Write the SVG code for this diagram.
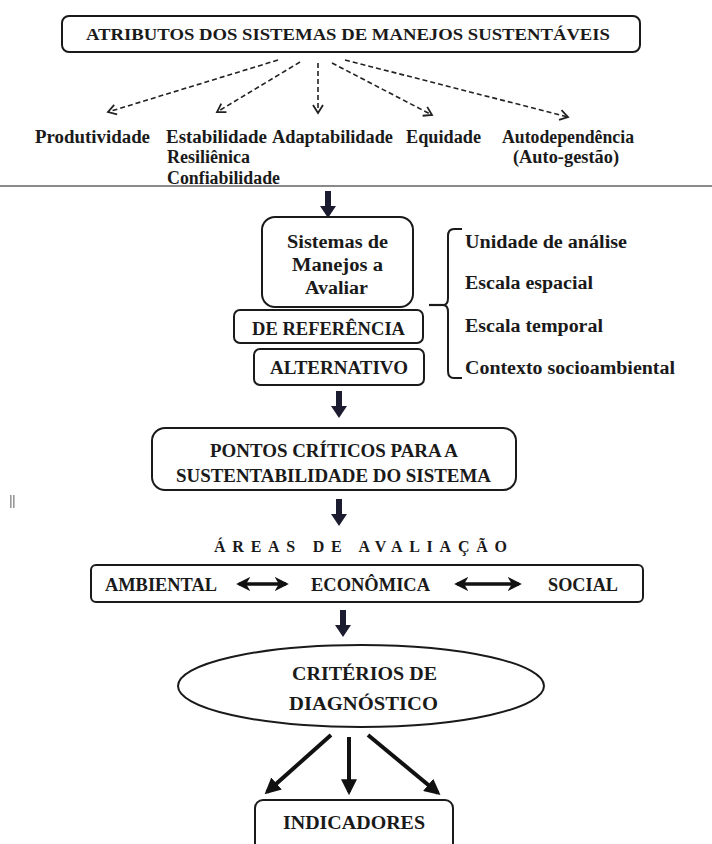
<svg xmlns="http://www.w3.org/2000/svg" width="712" height="844" viewBox="0 0 712 844">
<defs>
<style>
text{font-family:"Liberation Serif","Times New Roman",serif;font-weight:bold;fill:#1a1a1a;font-size:18px}
.c{text-anchor:middle}
.box{fill:#fff;stroke:#1a1a1a;stroke-width:2}
.dash{fill:none;stroke:#222;stroke-width:1.6;stroke-dasharray:5,3}
.thick{fill:none;stroke:#111;stroke-width:4}
.dbl{fill:none;stroke:#111;stroke-width:3.4}
</style>
<marker id="open" viewBox="0 0 12 12" refX="10" refY="6" markerWidth="12" markerHeight="12" markerUnits="userSpaceOnUse" orient="auto">
<path d="M2,1 L10,6 L2,11" fill="none" stroke="#222" stroke-width="1.8"/>
</marker>
<marker id="solid" viewBox="0 0 10 10" refX="8" refY="5" markerWidth="4" markerHeight="4" orient="auto">
<path d="M0,0 L10,5 L0,10 Z" fill="#111"/>
</marker>
<marker id="dh" viewBox="0 0 10 10" refX="8" refY="5" markerWidth="4.2" markerHeight="4.2" orient="auto">
<path d="M0,0 L10,5 L0,10 L3,5 Z" fill="#111"/>
</marker>
<marker id="dhS" viewBox="0 0 10 10" refX="2" refY="5" markerWidth="4.2" markerHeight="4.2" orient="auto">
<path d="M10,0 L0,5 L10,10 L7,5 Z" fill="#111"/>
</marker>
<path id="down" d="M-3,0 H3 V15 H8 L0,27 L-8,15 H-3 Z" fill="#1c1c30"/>
</defs>

<g id="atributos">
<rect class="box" x="62" y="16" width="578" height="36" rx="7" stroke-width="2.8"/>
<text x="86" y="40" textLength="524" lengthAdjust="spacingAndGlyphs" style="font-size:17.5px">ATRIBUTOS DOS SISTEMAS DE MANEJOS SUSTENTÁVEIS</text>
</g>
<g id="produtividade"><text x="35" y="143" textLength="115" lengthAdjust="spacingAndGlyphs">Produtividade</text></g>
<g id="estabilidade">
<text x="166" y="143" textLength="101" lengthAdjust="spacingAndGlyphs">Estabilidade</text>
<text x="167" y="163" textLength="83" lengthAdjust="spacingAndGlyphs">Resiliênica</text>
<text x="167" y="184" textLength="113" lengthAdjust="spacingAndGlyphs">Confiabilidade</text>
</g>
<g id="adaptabilidade"><text x="272" y="143" textLength="121" lengthAdjust="spacingAndGlyphs">Adaptabilidade</text></g>
<g id="equidade"><text x="406" y="143" textLength="75" lengthAdjust="spacingAndGlyphs">Equidade</text></g>
<g id="autodependencia">
<text x="502" y="143" textLength="132" lengthAdjust="spacingAndGlyphs">Autodependência</text>
<text x="513" y="163" textLength="106" lengthAdjust="spacingAndGlyphs">(Auto-gestão)</text>
</g>

<g id="sistemas">
<rect class="box" x="262" y="217" width="151" height="90" rx="13"/>
<text x="287" y="248" textLength="101" lengthAdjust="spacingAndGlyphs" style="font-size:18.5px">Sistemas de</text>
<text x="292" y="271" textLength="91" lengthAdjust="spacingAndGlyphs" style="font-size:18.5px">Manejos a</text>
<text x="305" y="294" textLength="63" lengthAdjust="spacingAndGlyphs" style="font-size:18.5px">Avaliar</text>
</g>
<g id="referencia">
<rect class="box" x="234" y="310" width="189" height="33" rx="6"/>
<text x="252" y="335" textLength="153" lengthAdjust="spacingAndGlyphs">DE REFERÊNCIA</text>
</g>
<g id="alternativo">
<rect class="box" x="254" y="349" width="170" height="36" rx="6"/>
<text x="270" y="374" textLength="138" lengthAdjust="spacingAndGlyphs">ALTERNATIVO</text>
</g>
<g id="unidade"><text x="465" y="248" textLength="162" lengthAdjust="spacingAndGlyphs">Unidade de análise</text></g>
<g id="espacial"><text x="465" y="289" textLength="128" lengthAdjust="spacingAndGlyphs">Escala espacial</text></g>
<g id="temporal"><text x="465" y="332" textLength="138" lengthAdjust="spacingAndGlyphs">Escala temporal</text></g>
<g id="contexto"><text x="465" y="374" textLength="210" lengthAdjust="spacingAndGlyphs">Contexto socioambiental</text></g>

<g id="pontos">
<rect class="box" x="152" y="428" width="364" height="62" rx="13"/>
<text x="210" y="457" textLength="248" lengthAdjust="spacingAndGlyphs">PONTOS CRÍTICOS PARA A</text>
<text x="176" y="482" textLength="315" lengthAdjust="spacingAndGlyphs">SUSTENTABILIDADE DO SISTEMA</text>
</g>
<g id="mark"><rect x="10" y="495" width="1.6" height="13" fill="#999"/><rect x="13" y="495" width="1.6" height="13" fill="#999"/></g>

<g id="areas-title"><text x="214" y="552" textLength="293" lengthAdjust="spacing" style="font-size:16px">ÁREAS DE AVALIAÇÃO</text></g>
<g id="areas">
<rect class="box" x="91" y="565" width="552" height="37" rx="5"/>
<text x="105" y="591" textLength="112" lengthAdjust="spacingAndGlyphs">AMBIENTAL</text>
<text x="311" y="591" textLength="119" lengthAdjust="spacingAndGlyphs">ECONÔMICA</text>
<text x="548" y="591" textLength="70" lengthAdjust="spacingAndGlyphs">SOCIAL</text>
</g>

<g id="criterios">
<ellipse cx="361" cy="686" rx="183" ry="41" fill="#fff" stroke="#1a1a1a" stroke-width="2"/>
<text x="292" y="680" textLength="145" lengthAdjust="spacingAndGlyphs" style="font-size:19px">CRITÉRIOS DE</text>
<text x="289" y="710" textLength="149" lengthAdjust="spacingAndGlyphs" style="font-size:19px">DIAGNÓSTICO</text>
</g>

<g id="indicadores">
<rect class="box" x="255" y="800" width="198" height="56" rx="8"/>
<text x="283" y="829" textLength="142" lengthAdjust="spacingAndGlyphs" style="font-size:19px">INDICADORES</text>
</g>

<g id="connectors">
<line class="dash" x1="278" y1="60" x2="108" y2="112" marker-end="url(#open)"/>
<line class="dash" x1="300" y1="62" x2="217" y2="112" marker-end="url(#open)"/>
<line class="dash" x1="318" y1="63" x2="318" y2="113" marker-end="url(#open)"/>
<line class="dash" x1="332" y1="63" x2="432" y2="115" marker-end="url(#open)"/>
<line class="dash" x1="345" y1="60" x2="568" y2="117" marker-end="url(#open)"/>
<line x1="0" y1="186" x2="712" y2="186" stroke="#8a8a8a" stroke-width="2"/>
<use href="#down" x="328" y="191"/>
<use href="#down" x="339" y="391"/>
<use href="#down" x="339" y="499"/>
<use href="#down" x="343" y="610"/>
<path d="M429,305 H443" fill="none" stroke="#1a1a1a" stroke-width="2.2"/>
<path d="M462,229 H454 Q448,229 448,236 V298 Q448,305 443,305 Q448,305 448,312 V371 Q448,378 454,378 H462" fill="none" stroke="#1a1a1a" stroke-width="2"/>
<line class="dbl" x1="239" y1="584" x2="286" y2="584" marker-start="url(#dhS)" marker-end="url(#dh)"/>
<line class="dbl" x1="457" y1="584" x2="519" y2="584" marker-start="url(#dhS)" marker-end="url(#dh)"/>
<line class="thick" x1="331" y1="735" x2="267" y2="792" marker-end="url(#solid)"/>
<line class="thick" x1="349" y1="737" x2="349" y2="792" marker-end="url(#solid)"/>
<line class="thick" x1="368" y1="735" x2="438" y2="793" marker-end="url(#solid)"/>
</g>
</svg>
